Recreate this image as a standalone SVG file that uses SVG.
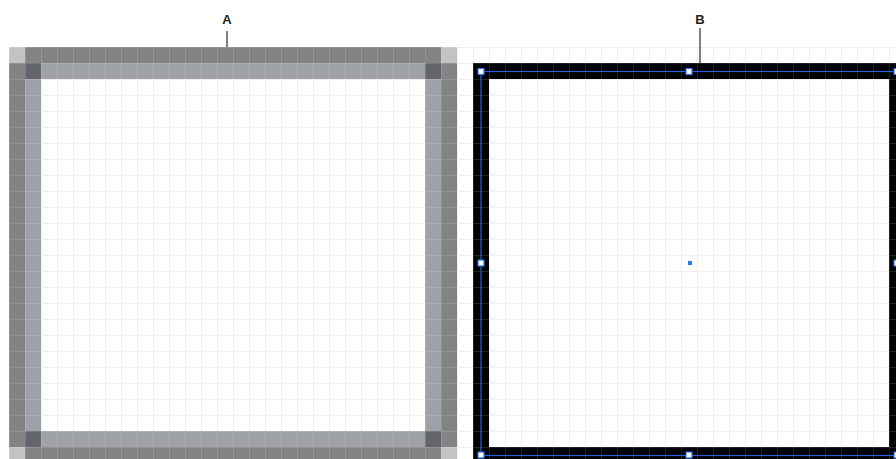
<svg xmlns="http://www.w3.org/2000/svg" width="896" height="459" viewBox="0 0 896 459">
  <style>
    .lbl { font-family: "Liberation Sans", Arial, sans-serif; font-size: 13px; font-weight: bold; fill: #222; text-anchor: middle; }
    .lead { stroke: #555; stroke-width: 1.5; fill: none; }
    .handle { fill: #ffffff; stroke: #2b6fe0; stroke-width: 1.2; }
  </style>
  <defs>
    <pattern id="grid" x="9" y="47" width="16" height="16" patternUnits="userSpaceOnUse">
      <path d="M0.5 0V16M0 0.5H16" stroke="#ececec" stroke-width="1" fill="none"/>
    </pattern>
    <pattern id="gridOver" x="9" y="47" width="16" height="16" patternUnits="userSpaceOnUse">
      <path d="M0.5 0V16M0 0.5H16" stroke="#ffffff" stroke-opacity="0.13" stroke-width="1" fill="none"/>
    </pattern>
  </defs>
  <rect width="896" height="459" fill="#ffffff"/>
  <rect x="9" y="47" width="887" height="412" fill="url(#grid)"/>

  <g id="nodeA">
    <path d="M9 47h448v416H9z M25 63h416v384H25z" fill="#838383" fill-rule="evenodd"/>
    <path d="M25 63h416v384H25z M41 79h384v352H41z" fill="#9ea2a7" fill-rule="evenodd"/>
    <rect x="9" y="47" width="16" height="16" fill="#c3c3c3"/>
    <rect x="441" y="47" width="16" height="16" fill="#c3c3c3"/>
    <rect x="9" y="447" width="16" height="16" fill="#c3c3c3"/>
    <rect x="441" y="447" width="16" height="16" fill="#c3c3c3"/>
    <rect x="25" y="63" width="16" height="16" fill="#64656c"/>
    <rect x="425" y="63" width="16" height="16" fill="#64656c"/>
    <rect x="25" y="431" width="16" height="16" fill="#64656c"/>
    <rect x="425" y="431" width="16" height="16" fill="#64656c"/>
  </g>

  <g id="nodeB">
    <rect x="481" y="71" width="416" height="384" fill="none" stroke="#000000" stroke-width="16"/>
  </g>

  <rect x="9" y="47" width="887" height="412" fill="url(#gridOver)"/>

  <g id="nodeB-selection">
    <rect x="481" y="71.5" width="416" height="384" fill="none" stroke="#2b5fd8" stroke-width="1.2"/>
    <rect class="handle" x="478" y="68.5" width="6" height="6"/>
    <rect class="handle" x="686" y="68.5" width="6" height="6"/>
    <rect class="handle" x="894" y="68.5" width="6" height="6"/>
    <rect class="handle" x="478" y="260" width="6" height="6"/>
    <rect class="handle" x="894" y="260" width="6" height="6"/>
    <rect class="handle" x="478" y="452" width="6" height="6"/>
    <rect class="handle" x="686" y="452" width="6" height="6"/>
    <rect class="handle" x="894" y="452" width="6" height="6"/>
    <rect x="688" y="261" width="4" height="4" fill="#2b7be8"/>
  </g>

  <g id="connectors">
    <line class="lead" x1="227" y1="31" x2="227" y2="47"/>
    <line class="lead" x1="700" y1="28" x2="700" y2="63"/>
  </g>

  <g id="labelA"><text class="lbl" x="227" y="24">A</text></g>
  <g id="labelB"><text class="lbl" x="700" y="24">B</text></g>
</svg>
